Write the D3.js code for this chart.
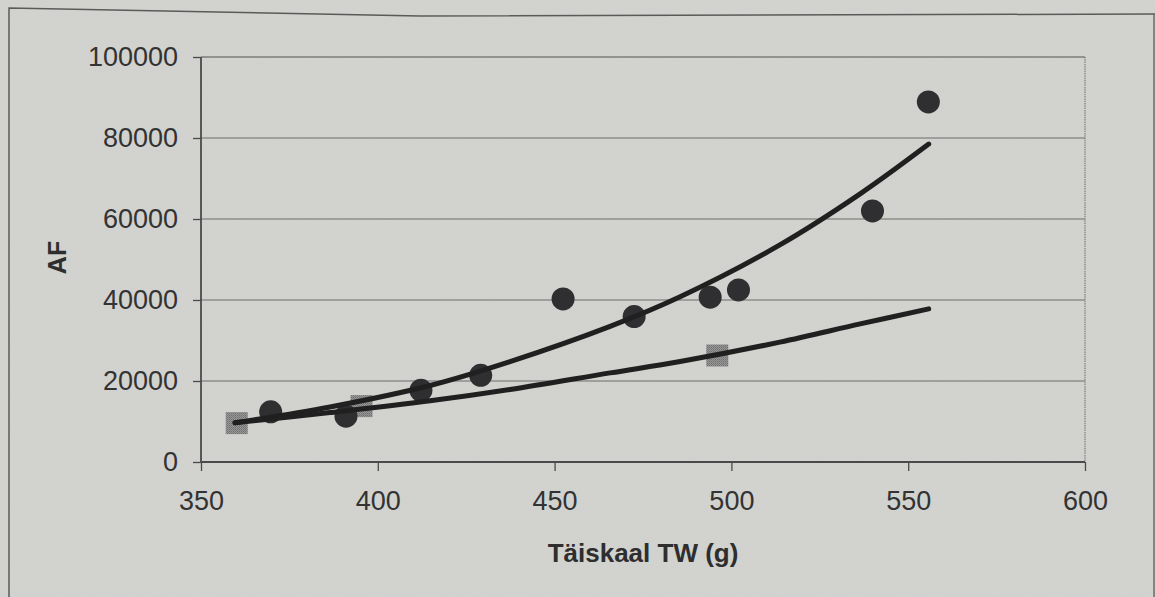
<!DOCTYPE html>
<html>
<head>
<meta charset="utf-8">
<script src="https://cdn.jsdelivr.net/npm/d3@7"></script>
<style>
  html, body { margin: 0; padding: 0; background: #d3d4d0; }
  svg { display: block; }
</style>
</head>
<body>
<svg id="chart" width="1155" height="597"></svg>
<script>
// Measured samples: AF against full-weight TW (g)
const circleTW = [369.7, 391.0, 412.2, 429.1, 452.4, 472.5, 494.0, 502.0, 539.9, 555.7];
const circleAF = [12400, 11300, 17700, 21400, 40250, 35900, 40700, 42500, 62000, 88900];

const squareTW = [360.1, 395.4, 496.0];
const squareAF = [9600, 13800, 26300];

// Fitted curves, sampled along TW
const curveTW  = [359.6, 386.5, 414.8, 437.4, 465.7, 485.5, 513.7, 536.4, 555.8];
const upperAF  = [9700, 13600, 18900, 24800, 33500, 40800, 53600, 66200, 78500];
const lowerAF  = [9700, 12200, 15100, 17900, 22000, 24800, 29600, 34100, 37800];

const xTicks = [350, 400, 450, 500, 550, 600];
const yTicks = [0, 20000, 40000, 60000, 80000, 100000];

const xTitle = "Täiskaal TW (g)";
const yTitle = "AF";

const svg = d3.select("#chart");
const W = 1155, H = 597;
const m = { left: 201, top: 57, right: 1155 - 1085, bottom: 597 - 462 };
const pw = W - m.left - m.right, ph = H - m.top - m.bottom;

// paper grain and dotted marker fill
const defs = svg.append("defs");
const f = defs.append("filter").attr("id", "grain").attr("x", 0).attr("y", 0).attr("width", "100%").attr("height", "100%");
f.append("feTurbulence").attr("type", "fractalNoise").attr("baseFrequency", 0.9).attr("numOctaves", 2).attr("seed", 4).attr("result", "n");
f.append("feColorMatrix").attr("type", "matrix")
  .attr("values", "0 0 0 0 0.5  0 0 0 0 0.5  0 0 0 0 0.5  0 0 0 0.10 0");
const dot = defs.append("pattern").attr("id", "sqfill").attr("width", 2).attr("height", 2).attr("patternUnits", "userSpaceOnUse");
dot.append("rect").attr("width", 2).attr("height", 2).attr("fill", "#979797");
dot.append("rect").attr("width", 1).attr("height", 1).attr("fill", "#6f6f6f");
dot.append("rect").attr("x", 1).attr("y", 1).attr("width", 1).attr("height", 1).attr("fill", "#7d7d7d");

svg.append("rect").attr("width", W).attr("height", H).attr("fill", "#d3d4d0");
svg.append("rect").attr("width", W).attr("height", H).attr("filter", "url(#grain)").attr("opacity", 0.8);

// outer chart frame
svg.append("path")
  .attr("d", "M9,597 L9,8 L420,16 L1155,14")
  .attr("fill", "none").attr("stroke", "#5a5a5a").attr("stroke-width", 1.5);
svg.append("line").attr("x1", 1154).attr("x2", 1154).attr("y1", 14).attr("y2", 597)
  .attr("stroke", "#6a6a6a").attr("stroke-width", 1.5);

const x = d3.scaleLinear().domain([350, 600]).range([0, pw]);
const y = d3.scaleLinear().domain([0, 100000]).range([ph, 0]);

const g = svg.append("g").attr("transform", `translate(${m.left},${m.top})`);

// horizontal gridlines
g.append("g").selectAll("line").data(yTicks.filter(v => v > 0 && v < 100000)).join("line")
  .attr("x1", 0).attr("x2", pw).attr("y1", d => y(d)).attr("y2", d => y(d))
  .attr("stroke", "#6c6c6c").attr("stroke-width", 1.2);

// plot area top and right borders
g.append("line").attr("x1", 0).attr("x2", pw).attr("y1", 0).attr("y2", 0)
  .attr("stroke", "#7c7c7c").attr("stroke-width", 1.6);
g.append("line").attr("x1", pw).attr("x2", pw).attr("y1", 0).attr("y2", ph)
  .attr("stroke", "#8a8a8a").attr("stroke-width", 1.4).attr("stroke-dasharray", "1.5,0.8");

const fontFam = "'Liberation Sans', Arial, sans-serif";

// axes
const yAxis = g.append("g")
  .call(d3.axisLeft(y).tickValues(yTicks).tickFormat(d3.format("d")).tickSize(8).tickPadding(15));
const xAxis = g.append("g").attr("transform", `translate(0,${ph})`)
  .call(d3.axisBottom(x).tickValues(xTicks).tickFormat(d3.format("d")).tickSize(9).tickPadding(20));

[yAxis, xAxis].forEach(a => {
  a.select(".domain").attr("stroke", "#4a4a4a").attr("stroke-width", 1.8);
  a.selectAll(".tick line").attr("stroke", "#4a4a4a").attr("stroke-width", 1.3);
  a.selectAll(".tick text").attr("fill", "#333").style("font-family", fontFam).style("font-size", "27px");
});
yAxis.select(".domain").attr("d", `M0,0V${ph}`);
xAxis.select(".domain").attr("d", `M0,0H${pw}`);

// layers: squares under the curves, circles, then curves on top
const squareLayer = g.append("g");
const circleLayer = g.append("g");
const curveLayer = g.append("g");

const sq = 22;
squareLayer.selectAll("rect").data(squareTW.map((t, i) => [t, squareAF[i]])).join("rect")
  .attr("x", d => x(d[0]) - sq / 2).attr("y", d => y(d[1]) - sq / 2)
  .attr("width", sq).attr("height", sq)
  .attr("fill", "url(#sqfill)");

circleLayer.selectAll("circle").data(circleTW.map((t, i) => [t, circleAF[i]])).join("circle")
  .attr("cx", d => x(d[0])).attr("cy", d => y(d[1])).attr("r", 11.5)
  .attr("fill", "#2f2f31");

const line = d3.line().x(d => x(d[0])).y(d => y(d[1])).curve(d3.curveCatmullRom.alpha(0.5));
[upperAF, lowerAF].forEach(vals => {
  curveLayer.append("path")
    .datum(curveTW.map((t, i) => [t, vals[i]]))
    .attr("d", line)
    .attr("fill", "none").attr("stroke", "#202020").attr("stroke-width", 5)
    .attr("stroke-linecap", "round");
});

// axis titles
svg.append("text")
  .attr("x", m.left + pw / 2).attr("y", 562)
  .attr("text-anchor", "middle")
  .style("font-family", fontFam).style("font-size", "26px").style("font-weight", "bold")
  .attr("fill", "#2e2e2e")
  .text(xTitle);

svg.append("text")
  .attr("transform", `translate(66,${m.top + ph / 2 - 2}) rotate(-90)`)
  .attr("text-anchor", "middle")
  .style("font-family", fontFam).style("font-size", "25px").style("font-weight", "bold")
  .attr("fill", "#2e2e2e")
  .text(yTitle);
</script>
</body>
</html>
